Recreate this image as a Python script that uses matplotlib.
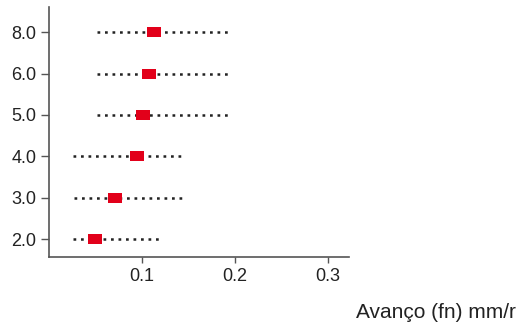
import numpy as np
import matplotlib
matplotlib.use("Agg")
import matplotlib.pyplot as plt

plt.rcParams['font.family'] = ['Liberation Sans', 'DejaVu Sans']

# categorias (profundidade) e avanço: mínimo, máximo e valor marcado
categorias = ["2.0", "3.0", "4.0", "5.0", "6.0", "8.0"]
avanco_min = [0.0265, 0.0275, 0.0265, 0.0516, 0.0516, 0.0516]
avanco_max = [0.118, 0.146, 0.144, 0.195, 0.195, 0.195]
avanco_ref = [0.0501, 0.0713, 0.0953, 0.1014, 0.1075, 0.1135]
xticks = [0.1, 0.2, 0.3]

fig = plt.figure(figsize=(5.17, 3.24), dpi=100)
ax = fig.add_axes([0.0942, 0.2059, 0.5814, 0.7716])

pos = np.arange(len(categorias))
ax.hlines(pos, avanco_min, avanco_max, colors='#222222', linewidth=1.8,
          linestyles=(0, (1.1, 1.9)), zorder=2)

# marcador retangular
rect = [(-1.4, -1), (1.4, -1), (1.4, 1), (-1.4, 1), (-1.4, -1)]
ax.plot(avanco_ref, pos, linestyle='none', marker=rect, markersize=10.2,
        color='#e2001a', markeredgewidth=0, zorder=3)

ax.set_xlim(0, 0.323)
ax.set_ylim(-0.435, 5.6)
ax.set_yticks(pos)
ax.set_yticklabels(categorias)
ax.set_xticks(xticks)
ax.set_xticklabels([f"{t:.1f}" for t in xticks])

for s in ['top', 'right']:
    ax.spines[s].set_visible(False)
for s in ['left', 'bottom']:
    ax.spines[s].set_color('#555555')
    ax.spines[s].set_linewidth(1.2)
ax.tick_params(axis='y', length=6, width=1.0, color='#555555', pad=3,
               labelsize=13, labelcolor='#222222')
ax.tick_params(axis='x', length=4, width=1.0, color='#555555', pad=4,
               labelsize=13, labelcolor='#222222')

fig.text(0.998, 0.034, "Avanço (fn) mm/r", ha='right', va='center',
         fontsize=15, color='#222222')

fig.savefig("out.png", dpi=100)
